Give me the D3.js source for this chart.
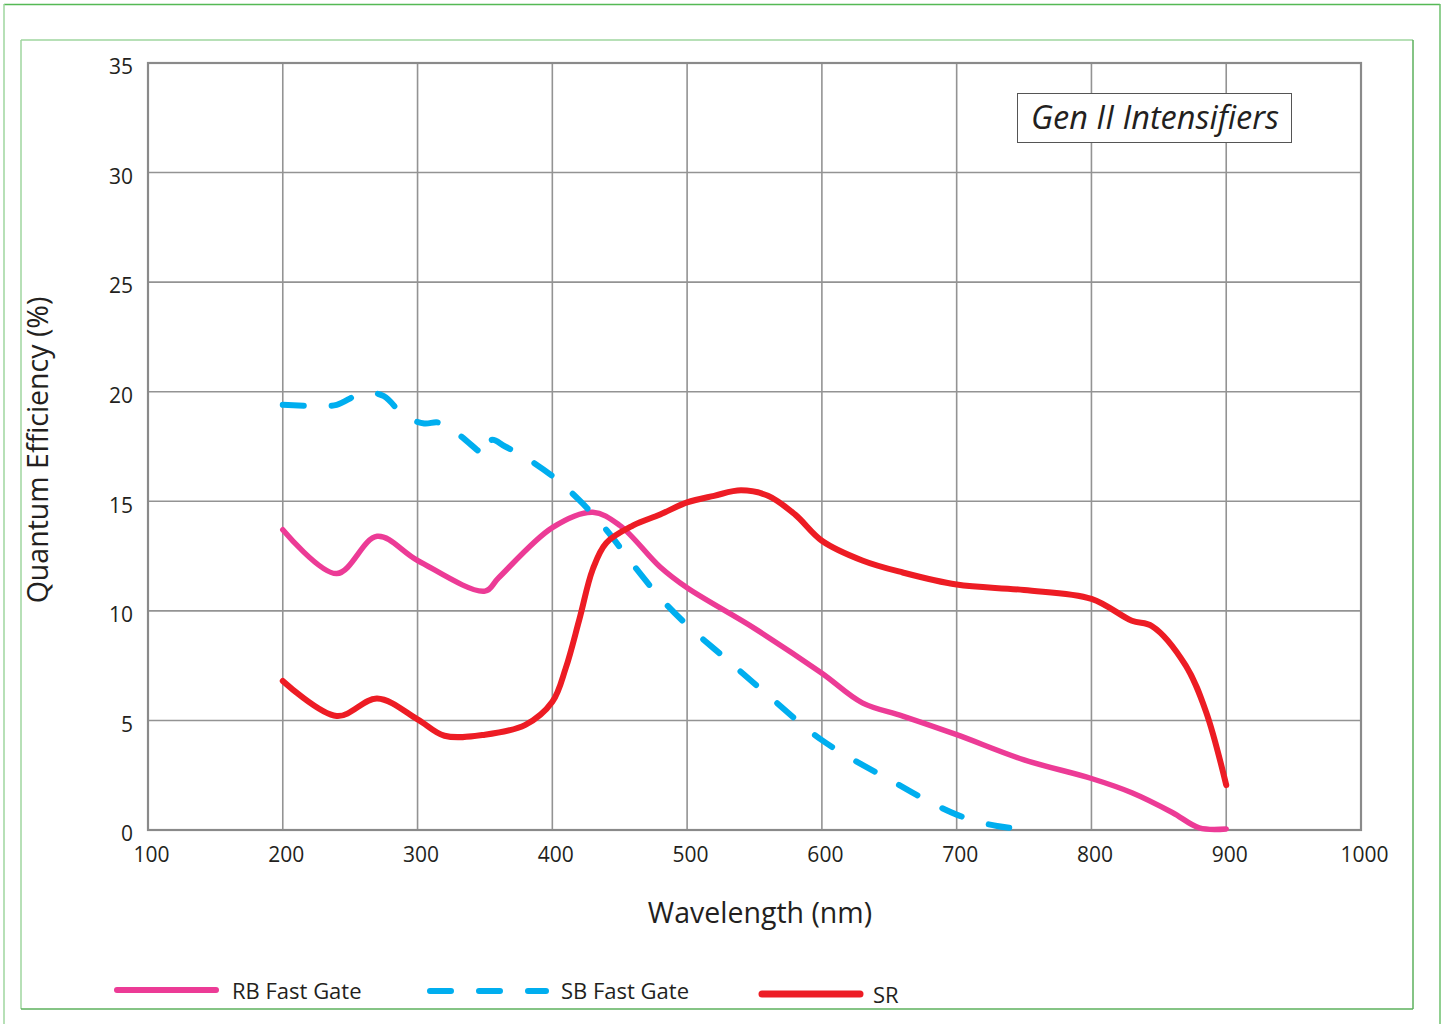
<!DOCTYPE html>
<html><head><meta charset="utf-8">
<script src="https://cdn.jsdelivr.net/npm/d3@7"></script>
<style>body{margin:0;background:#fff}svg{display:block}text{font-family:"Open Sans",sans-serif;fill:#231f20}</style>
</head><body><svg id="c" width="1445" height="1024"></svg>
<script>
const xTicks = [100,200,300,400,500,600,700,800,900,1000];
const yTicks = [0,5,10,15,20,25,30,35];

const rbWl  = [200,240,270,300,350,360,400,430,450,480,500,550,600,630,660,700,750,800,830,860,880,900];
const rbQE  = [13.7,11.7,13.4,12.3,10.9,11.5,13.8,14.5,13.9,12.0,11.05,9.2,7.15,5.8,5.2,4.35,3.2,2.35,1.7,0.8,0.1,0.05];

const sbWl  = [200,230,240,260,275,290,305,315,325,345,350,355,365,380,400,420,440,460,480,500,530,560,600,650,700,730,750];
const sbQE  = [19.4,19.35,19.4,19.95,19.8,18.9,18.55,18.6,18.3,17.3,17.05,17.8,17.5,17.0,16.15,15.05,13.7,12.1,10.6,9.35,7.75,6.15,4.1,2.3,0.7,0.18,0.05];

const srWl  = [200,240,270,300,320,350,380,400,410,420,430,440,460,480,500,520,540,560,580,600,630,660,700,750,800,830,845,870,885,900];
const srQE  = [6.8,5.2,6.0,5.05,4.3,4.35,4.8,5.85,7.4,9.6,11.9,13.1,13.9,14.4,14.95,15.25,15.5,15.25,14.4,13.2,12.3,11.75,11.2,10.95,10.55,9.55,9.3,7.5,5.4,2.05];

const legendNames = ["RB Fast Gate","SB Fast Gate","SR"];
const titleText = "Gen II Intensifiers";

const svg = d3.select("#c");
const L=148, R=1361, T=63, B=830;
const x = d3.scaleLinear().domain([100,1000]).range([L,R]);
const y = d3.scaleLinear().domain([0,35]).range([B,T]);

// frames
svg.append("line").attr("x1",4).attr("y1",4.5).attr("x2",1440).attr("y2",4.5).attr("stroke","#55b955").attr("stroke-width",1.5);
svg.append("line").attr("x1",4).attr("y1",4).attr("x2",4).attr("y2",1024).attr("stroke","#9fd69f").attr("stroke-width",1.5);
svg.append("line").attr("x1",1440).attr("y1",4).attr("x2",1440).attr("y2",1024).attr("stroke","#6cc06c").attr("stroke-width",1.5);
svg.append("line").attr("x1",21).attr("y1",40).attr("x2",1413).attr("y2",40).attr("stroke","#9fd69f").attr("stroke-width",1.5);
svg.append("line").attr("x1",21).attr("y1",40).attr("x2",21).attr("y2",1009).attr("stroke","#9fd69f").attr("stroke-width",1.5);
svg.append("line").attr("x1",1413).attr("y1",40).attr("x2",1413).attr("y2",1009).attr("stroke","#5cb05c").attr("stroke-width",1.5);
svg.append("line").attr("x1",21).attr("y1",1009).attr("x2",1413).attr("y2",1009).attr("stroke","#5cb05c").attr("stroke-width",1.5);

// grid
const g = svg.append("g");
g.selectAll(".vx").data(xTicks).join("line").attr("x1",d=>x(d)).attr("x2",d=>x(d)).attr("y1",T).attr("y2",B)
  .attr("stroke","#939393").attr("stroke-width",1.6);
g.selectAll(".hy").data(yTicks).join("line").attr("x1",L).attr("x2",R).attr("y1",d=>y(d)).attr("y2",d=>y(d))
  .attr("stroke","#939393").attr("stroke-width",1.6);
g.append("rect").attr("x",L).attr("y",T).attr("width",R-L).attr("height",B-T).attr("fill","none").attr("stroke","#8a8a8a").attr("stroke-width",2.2);

// axes labels
const xAxis = d3.axisBottom(x).tickValues(xTicks).tickFormat(d3.format("d")).tickSize(0).tickPadding(0);
const gx = svg.append("g").attr("transform",`translate(3,${B+17})`).call(xAxis);
gx.select(".domain").remove();
gx.selectAll("text").attr("font-size",21).attr("dy","0.71em").style("font-family","'Open Sans',sans-serif").attr("fill","#231f20");
const yAxis = d3.axisLeft(y).tickValues(yTicks).tickFormat(d3.format("d")).tickSize(0).tickPadding(0);
const gy = svg.append("g").attr("transform",`translate(133,4)`).call(yAxis);
gy.select(".domain").remove();
gy.selectAll("text").attr("font-size",21).style("font-family","'Open Sans',sans-serif").attr("fill","#231f20");

svg.append("text").attr("x",760).attr("y",923).attr("text-anchor","middle").attr("font-size",28.5).text("Wavelength (nm)");
svg.append("text").attr("transform","translate(48,450) rotate(-90)").attr("text-anchor","middle").attr("font-size",28.5).text("Quantum Efficiency (%)");

// title box
svg.append("rect").attr("x",1017.5).attr("y",93.5).attr("width",274).attr("height",49).attr("fill","#fff").attr("stroke","#555").attr("stroke-width",1);
svg.append("text").attr("x",1155).attr("y",129).attr("text-anchor","middle").attr("font-size",32.5).attr("font-style","italic").text(titleText);

// curves
const line = d3.line().x(d=>x(d[0])).y(d=>y(d[1])).curve(d3.curveCatmullRom.alpha(0.5));
const series = [
  {wl:rbWl,v:rbQE,c:"#ec3b96",w:5.5,dash:null},
  {wl:sbWl,v:sbQE,c:"#00aeef",w:6,dash:"21,28"},
  {wl:srWl,v:srQE,c:"#ed1c24",w:6,dash:null}
];
series.forEach(s=>{
  svg.append("path").datum(d3.zip(s.wl,s.v)).attr("d",line).attr("fill","none").attr("stroke",s.c)
    .attr("stroke-width",s.w).attr("stroke-linecap","round").attr("stroke-linejoin","round")
    .attr("stroke-dasharray",s.dash);
});

// legend
const leg = [
  {x1:117,x2:216,y:990,tx:232,ty:999,c:"#ec3b96",w:6,dash:null},
  {x1:430,x2:546,y:991,tx:561,ty:999,c:"#00aeef",w:6,dash:"21,28"},
  {x1:762,x2:860,y:994,tx:873,ty:1003,c:"#ed1c24",w:7,dash:null}
];
leg.forEach((l,i)=>{
  svg.append("line").attr("x1",l.x1).attr("x2",l.x2).attr("y1",l.y).attr("y2",l.y).attr("stroke",l.c)
    .attr("stroke-width",l.w).attr("stroke-linecap","round").attr("stroke-dasharray",l.dash);
  svg.append("text").attr("x",l.tx).attr("y",l.ty).attr("font-size",22).text(legendNames[i]);
});
</script></body></html>
